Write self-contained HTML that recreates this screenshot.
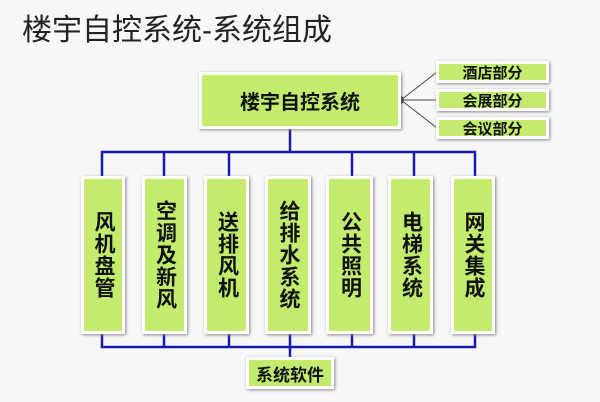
<!DOCTYPE html>
<html><head><meta charset="utf-8"><style>
body{margin:0;width:600px;height:402px;background:#f7f7f7;overflow:hidden;position:relative;font-family:"Liberation Sans","Noto Sans CJK SC",sans-serif}
.t{position:absolute;left:22px;top:5px;font-size:30px;color:#222}
.b{position:absolute;background:#c3ec6e;border:3px solid #fff;box-shadow:1px 1px 3px #888;box-sizing:border-box;display:flex;align-items:center;justify-content:center;font-weight:bold;color:#111}
.v{writing-mode:vertical-rl;text-orientation:upright;font-size:21px;letter-spacing:1px}
</style></head><body>
<div class="t">楼宇自控系统-系统组成</div>
<svg width="600" height="402" style="position:absolute;left:0;top:0">
<g stroke="#1a1aa8" stroke-width="2.5" fill="none">
<path d="M290 128V152M102 177V152H475V177M164 152V177M229 152V177M352 152V177M414 152V177"/>
<path d="M102 333V347H475V333M164 333V347M229 333V347M290 177V362M352 333V347M414 333V347"/>
</g>
<g stroke="#444" stroke-width="1"><path d="M401 100L437 72M401 100H437M401 100L437 128"/></g>
<ellipse cx="401" cy="100" rx="2.5" ry="4" fill="#111"/>
</svg>
<div class="b" style="left:199px;top:72px;width:202px;height:57px;font-size:20px">楼宇自控系统</div>
<div class="b" style="left:436px;top:61px;width:113px;height:22px;font-size:15px">酒店部分</div>
<div class="b" style="left:436px;top:89px;width:113px;height:22px;font-size:15px">会展部分</div>
<div class="b" style="left:436px;top:117px;width:113px;height:22px;font-size:15px">会议部分</div>
<div class="b v" style="left:81px;top:176px;width:44px;height:158px">风机盘管</div>
<div class="b v" style="left:142px;top:176px;width:45px;height:158px">空调及新风</div>
<div class="b v" style="left:204px;top:176px;width:45px;height:158px">送排风机</div>
<div class="b v" style="left:265px;top:176px;width:46px;height:158px">给排水系统</div>
<div class="b v" style="left:326px;top:176px;width:47px;height:158px">公共照明</div>
<div class="b v" style="left:388px;top:176px;width:45px;height:158px">电梯系统</div>
<div class="b v" style="left:451px;top:176px;width:44px;height:158px">网关集成</div>
<div class="b" style="left:246px;top:357px;width:88px;height:32px;font-size:17px">系统软件</div>
</body></html>
